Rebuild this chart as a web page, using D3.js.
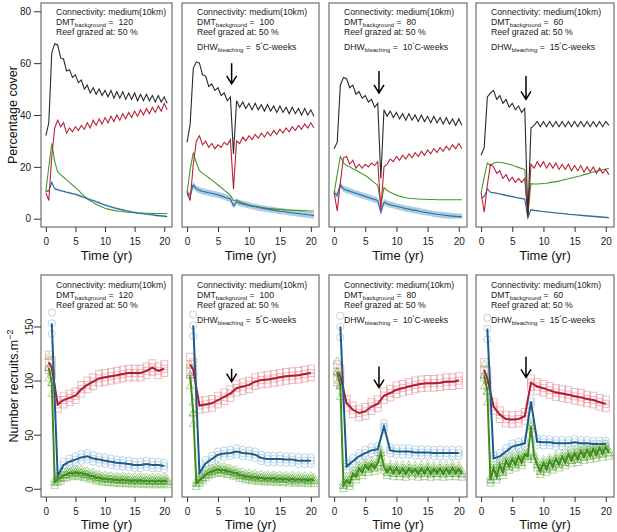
<!DOCTYPE html>
<html>
<head>
<meta charset="utf-8">
<script src="https://cdn.jsdelivr.net/npm/d3@7"></script>
<style>
  body { margin: 0; background: #fff; }
  svg { font-family: "Liberation Sans", Arial, sans-serif; }
  .note { white-space: pre; }
</style>
</head>
<body>
<svg id="chart" width="617" height="532"></svg>
<script>
// ---- data ----
const dmtValues = [120, 100, 80, 60];
const dhwValues = [null, 5, 10, 15];
const xTicks = [0, 5, 10, 15, 20];
const coverTicks = [0, 20, 40, 60, 80];
const recruitTicks = [0, 50, 100, 150];

// time (yr) for the cover panels, half-year steps
const tCover = [0, 0.5, 1, 1.5, 2, 2.5, 3, 3.5, 4, 4.5, 5, 5.5, 6, 6.5, 7, 7.5, 8, 8.5, 9, 9.5,
  10, 10.5, 11, 11.5, 12, 12.5, 13, 13.5, 14, 14.5, 15, 15.5, 16, 16.5, 17, 17.5, 18, 18.5, 19, 19.5, 20, 20.5];

// percentage cover, one array per panel
const coverBlack = [
  [32, 37, 64, 67.5, 67, 62, 61.5, 57, 57.5, 54.5, 55.5, 52.5, 53.5, 50, 51.5, 48.5, 50.5, 48, 50, 47.5,
   49.5, 47, 49.5, 46.5, 49, 46.5, 49, 46, 48.5, 46, 48.5, 45.5, 48, 45.5, 48, 45.5, 47.5, 45, 47.5, 45, 47, 44.5],
  [29.5, 36.5, 58, 60.5, 60, 55.5, 55, 51, 52, 49.5, 50.5, 47.5, 48.5, 45.5, 47, 25, 45.5, 43, 45, 42.5,
   44.5, 42, 44.5, 42, 44, 41.5, 44, 41.5, 43.5, 41, 43.5, 41, 43, 40.5, 43, 40.5, 42.5, 40, 42.5, 40, 42, 39.5],
  [27, 29.5, 51.5, 54.5, 54, 50.5, 51.5, 48, 49, 46.5, 47.5, 45, 46, 43, 44.5, 15.5, 42, 39.5, 41.5, 39,
   41, 38.5, 40.5, 38, 40.5, 38, 40, 37.5, 40, 37.5, 39.5, 37, 39.5, 37, 39, 36.5, 39, 36.5, 38.5, 36, 38.5, 36],
  [24.5, 27.5, 47, 48.5, 49.5, 46, 47.5, 44.5, 46, 43, 44.5, 42, 43.5, 41, 42.5, 1, 35, 36, 37.5, 35.5,
   37.5, 35.5, 37.5, 35.5, 37.5, 35.5, 37.5, 35.5, 37.5, 35.5, 37.5, 35.5, 37.5, 35.5, 37.5, 35.5, 37.5, 35.5, 37.5, 35.5, 37.5, 36]
];
const coverRed = [
  [10, 7, 24, 35, 38, 35.5, 37, 33, 35, 33.5, 35.5, 34, 36, 34.5, 37, 35, 38, 36, 38.5, 36.5,
   39, 37, 39.5, 37.5, 40, 38, 40.5, 38.5, 41, 39, 41.5, 39.5, 42, 40, 42.5, 40.5, 43, 41, 43.5, 41.5, 44.5, 42],
  [10, 7, 21, 30, 32, 28.5, 30, 27.5, 29, 27, 28.5, 27.5, 29.5, 28.5, 30.5, 11.5, 30, 29, 31.5, 30,
   32, 30.5, 32.5, 31, 33, 31.5, 33.5, 32, 34, 32.5, 34.5, 33, 35, 33.5, 35.5, 34, 36, 34.5, 36.5, 35, 37, 35],
  [10, 3, 14, 23.5, 24, 21, 22.5, 19.5, 21, 19.5, 21, 20, 21.5, 20.5, 22, 3.5, 20, 21, 23, 22,
   24, 22.5, 24.5, 23, 25, 23.5, 25.5, 24, 26, 24.5, 26.5, 25, 27, 25.5, 27.5, 26, 28, 26.5, 28.5, 27, 29, 27],
  [10, 2.5, 13, 21, 20, 17.5, 18.5, 15.5, 17, 14.5, 16, 14, 15.5, 14, 15.5, 0.5, 21, 19.5, 22, 20,
   22, 19.5, 21.5, 19.5, 21.5, 19, 21, 19, 21, 18.5, 20.5, 18.5, 20.5, 18, 20, 18, 20, 17.5, 19.5, 17.5, 19, 17]
];
const coverGreen = [
  [10.5, 20, 29, 22, 18, 17, 16, 15, 14, 13, 12, 11, 9.8, 8.7, 7.7, 6.9, 6.2, 5.6, 5, 4.5,
   4, 3.7, 3.4, 3.2, 3, 2.8, 2.7, 2.6, 2.5, 2.4, 2.3, 2.2, 2.2, 2.1, 2.1, 2.1, 2, 2, 2, 2, 2, 2],
  [10, 19, 25.5, 21.5, 18.5, 17.5, 16.7, 15.8, 14.9, 14, 13, 12, 11, 10, 9, 7, 7.2, 6.6, 6.1, 5.7,
   5.3, 5, 4.8, 4.6, 4.4, 4.2, 4, 3.9, 3.8, 3.7, 3.6, 3.5, 3.4, 3.3, 3.3, 3.2, 3.2, 3.1, 3.1, 3, 3, 3],
  [10, 17, 24, 21.5, 20.5, 20, 19.3, 18.7, 18, 17.3, 16.7, 15.8, 14.8, 13.8, 12.9, 5.5, 12, 11, 10.2, 9.6,
   9.1, 8.7, 8.4, 8.1, 7.9, 7.8, 7.7, 7.6, 7.5, 7.5, 7.4, 7.4, 7.4, 7.3, 7.3, 7.3, 7.3, 7.3, 7.3, 7.3, 7.3, 7.3],
  [10, 16, 21.5, 20.5, 21.5, 21.8, 21.8, 21.6, 21.3, 21, 20.6, 20.2, 19.8, 19.4, 19, 2, 13.5, 13.4, 13.4, 13.5,
   13.6, 13.7, 13.9, 14.1, 14.3, 14.5, 14.8, 15.1, 15.4, 15.7, 16, 16.3, 16.6, 17, 17.3, 17.6, 18, 18.3, 18.6, 18.9, 19.2, 19.4]
];
const coverBlue = [
  [10.5, 10.8, 14, 11.5, 11.2, 10.8, 10.6, 10.2, 10, 9.6, 9.4, 9, 8.6, 8.2, 7.8, 7.3, 7, 6.5, 6.2, 5.7,
   5.3, 4.9, 4.6, 4.2, 3.9, 3.6, 3.4, 3.1, 2.9, 2.6, 2.5, 2.2, 2.1, 1.9, 1.8, 1.6, 1.5, 1.3, 1.2, 1.1, 1, 0.8],
  [10, 9, 13, 11.5, 11, 10.5, 10.3, 10, 9.8, 9.5, 9.2, 8.8, 8.4, 8, 7.6, 5, 6.6, 6, 5.7, 5.4,
   5.1, 4.8, 4.6, 4.3, 4.1, 3.9, 3.7, 3.5, 3.3, 3.1, 2.9, 2.8, 2.6, 2.4, 2.3, 2.1, 2, 1.8, 1.7, 1.5, 1.4, 1.2],
  [10, 9, 13, 11.5, 11, 10.6, 10.2, 9.8, 9.4, 9, 8.6, 8.2, 7.8, 7.4, 7, 2.5, 6.4, 5.8, 5.4, 5.1,
   4.8, 4.5, 4.2, 3.9, 3.7, 3.4, 3.2, 3, 2.7, 2.5, 2.3, 2.1, 1.9, 1.7, 1.6, 1.4, 1.3, 1.1, 1, 0.9, 0.8, 0.7],
  [8, 8.5, 11.5, 10.2, 10, 9.8, 9.5, 9.3, 9, 8.8, 8.5, 8.3, 8, 7.8, 7.5, 0.3, 3.5, 3.2, 3.1, 2.9,
   2.8, 2.6, 2.5, 2.4, 2.2, 2.1, 2, 1.9, 1.7, 1.6, 1.5, 1.4, 1.3, 1.2, 1.1, 1, 0.9, 0.8, 0.7, 0.6, 0.5, 0.4]
];
// half width of the light blue band round the blue cover line
const blueBand = [0.4, 1.2, 1.2, 0.3];

// recruits: red and blue yearly, green half-yearly
const tYearly = [0.5, 1, 2, 3, 4, 5, 6, 7, 8, 9, 10, 11, 12, 13, 14, 15, 16, 17, 18, 19, 20];
const tHalf = [0.5, 1, 1.5, 2, 2.5, 3, 3.5, 4, 4.5, 5, 5.5, 6, 6.5, 7, 7.5, 8, 8.5, 9, 9.5, 10,
  10.5, 11, 11.5, 12, 12.5, 13, 13.5, 14, 14.5, 15, 15.5, 16, 16.5, 17, 17.5, 18, 18.5, 19, 19.5, 20, 20.5];

const recruitRed = [
  [117, 112, 78, 82, 84, 86, 92, 96, 99, 102, 103, 104, 105, 106, 107, 107, 107, 109, 112, 109, 111],
  [115, 110, 77, 78, 79, 82, 85, 88, 93, 94.5, 96, 99, 100.5, 101, 102, 103, 104, 104.5, 105, 106, 107],
  [108, 104, 79, 73, 70, 71.5, 76, 78.5, 86, 88.5, 91.5, 93, 94.5, 96, 97, 97.5, 97.5, 98, 99, 99, 100],
  [110, 102, 76, 68.5, 64.5, 64, 64.5, 67, 98, 94.5, 93, 91, 89, 88, 87, 85.5, 84.5, 83, 82, 80, 78.5]
];
const recruitBlue = [
  [null, 153, 12, 22, 25, 27, 29, 30, 28, 27, 26, 25, 24, 23.5, 23, 22, 22, 23, 22, 22, 21],
  [null, 151, 14.5, 23.5, 27.5, 31.5, 32.5, 33, 34.5, 33, 32.5, 31.5, 28.5, 27.5, 27.5, 27.5, 27, 27, 26, 26, 26],
  [null, 150, 20.5, 25.5, 30, 33, 35.5, 36.5, 57.5, 35.5, 34.5, 34.5, 34.5, 33.5, 33.5, 33.5, 33, 33, 33, 33, 33],
  [null, 148, 28, 30, 34.5, 39, 40.5, 42, 80.5, 43.5, 43, 43, 42, 42, 42, 43, 42, 42, 41.5, 41.5, 41.5]
];
const recruitGreen = [
  [112, 98, 6, 9, 10, 12.5, 13, 15, 14, 15.5, 14, 15, 13, 13.5, 11.5, 12, 10, 10.5, 9, 9.5,
   8.5, 9, 8, 8.5, 7.5, 8.5, 7.5, 8, 7, 8, 7, 8, 7, 7.5, 6.5, 7.5, 6.5, 7.5, 6.5, 7.5, 6.5],
  [105, 70, 5, 8, 10, 13, 15, 16, 17, 18, 17, 17.5, 16, 16, 14.5, 14.5, 12.5, 12.5, 11, 11.5,
   10, 11, 9.5, 10.5, 9, 10, 9, 10, 8.5, 9.5, 8.5, 9.5, 8, 9.5, 8, 9, 8, 9, 7.5, 9, 7.5],
  [108, 95, 3, 8, 5, 14, 11, 19, 15, 22, 18, 23, 19, 24, 33, 20, 15, 20, 14, 19.5,
   14, 19, 13.5, 19, 14.5, 18.5, 13.5, 19, 14, 19.5, 13.5, 18.5, 14, 19, 13.5, 19, 14, 19.5, 14, 18.5, 13.5],
  [105, 90, 8, 19, 11, 22, 15, 26, 20, 28, 22, 30, 24, 32, 30, 58, 30, 22, 16, 24,
   18, 26, 20, 28, 22, 30, 24, 32, 26, 33, 27, 35, 29, 36, 30, 37, 31, 38, 32, 39, 33]
];
// vertical spread of the replicate markers (red, blue, green), later / first two points
const markerSpread = [4, 3, 3];
const earlySpread = [7, 10, 10];

// bleaching arrows (time, tail, tip)
const arrowTime = 7.2;
const coverArrowTail = [null, 60, 57, 55];
const coverArrowTip = [null, 52, 48.5, 46];
const recruitArrowTail = [null, 111, 113, 122];
const recruitArrowTip = [null, 99, 93.5, 103];

// ---- layout ----
const svg = d3.select('#chart');
const cols = [
  { x0: 41, x1: 172 },
  { x0: 182, x1: 319 },
  { x0: 329, x1: 467 },
  { x0: 476, x1: 614 }
];
const rowTop = { y0: 3, y1: 227 };
const rowBottom = { y0: 275, y1: 497 };
const xDomain = [-0.82, 21.32];
const coverDomain = [-3.2, 83.2];
const recruitDomain = [-7.6, 197.6];

const colors = {
  black: '#2a2a2a', red: '#b8233a', green: '#4a962a', blue: '#2a6b9c', band: '#9dc6e0',
  redDark: '#b01d33', blueDark: '#1d5c8a', greenDark: '#3f8c1d',
  square: '#e89aa4', circle: '#98c1dc', triangle: '#8cc670'
};

function styleAxis(g) {
  g.select('.domain').remove();
  g.selectAll('.tick line').attr('stroke', '#333');
  g.selectAll('.tick text').attr('fill', '#222').style('font-size', '10px');
}

function drawFrame(c, row, x, y, i, isTop) {
  svg.append('rect')
    .attr('x', c.x0).attr('y', row.y0)
    .attr('width', c.x1 - c.x0).attr('height', row.y1 - row.y0)
    .attr('fill', 'none').attr('stroke', '#555').attr('stroke-width', 1);

  svg.append('g')
    .attr('transform', `translate(0,${row.y1})`)
    .call(d3.axisBottom(x).tickValues(xTicks).tickSize(5).tickPadding(6))
    .call(styleAxis);

  svg.append('text')
    .attr('x', (c.x0 + c.x1) / 2)
    .attr('y', row.y1 + (isTop ? 33 : 31.5))
    .attr('text-anchor', 'middle')
    .style('font-size', '13px')
    .attr('fill', '#111')
    .text('Time (yr)');

  if (i === 0) {
    const ax = svg.append('g')
      .attr('transform', `translate(${c.x0},0)`)
      .call(d3.axisLeft(y).tickValues(isTop ? coverTicks : recruitTicks).tickSize(7).tickPadding(3))
      .call(styleAxis);
    if (!isTop) {
      ax.selectAll('.tick text')
        .attr('x', null).attr('dy', null)
        .attr('text-anchor', 'middle')
        .attr('transform', 'translate(-8,0) rotate(-90)');
    }
  }

  // annotation block
  const tx = c.x0 + 15;
  const base = row.y0 + (isTop ? 12 : 13);
  const note = (yy) => svg.append('text').attr('class', 'note')
    .attr('x', tx).attr('y', yy).style('font-size', '8.7px').attr('fill', '#222');

  note(base).text('Connectivity: medium(10km)');
  const l2 = note(base + 10);
  l2.append('tspan').text('DMT');
  l2.append('tspan').attr('dy', 2).style('font-size', '6px').text('background');
  l2.append('tspan').attr('dy', -2).text(' =  ' + dmtValues[i]);
  note(base + 20).text('Reef grazed at: 50 %');
  if (dhwValues[i] !== null) {
    const l4 = note(base + 35);
    l4.append('tspan').text('DHW');
    l4.append('tspan').attr('dy', 2).style('font-size', '6px').text('bleaching');
    l4.append('tspan').attr('dy', -2).text(' =  ' + dhwValues[i]);
    l4.append('tspan').attr('dy', -3).style('font-size', '6px').text('˚');
    l4.append('tspan').attr('dy', 3).text('C-weeks');
  }
}

function drawArrow(x, y, tail, tip) {
  if (tail === null) return;
  const ax = x(arrowTime), y0 = y(tail), y1 = y(tip);
  svg.append('path')
    .attr('d', `M${ax},${y0}L${ax},${y1}M${ax - 5},${y1 - 8}L${ax},${y1}L${ax + 5},${y1 - 8}`)
    .attr('fill', 'none').attr('stroke', '#000').attr('stroke-width', 1.5);
}

function marker(kind, g, px, py) {
  if (kind === 'square') {
    g.append('rect').attr('x', px - 3.5).attr('y', py - 3.5).attr('width', 7).attr('height', 7);
  } else if (kind === 'circle') {
    g.append('circle').attr('cx', px).attr('cy', py).attr('r', 3.6);
  } else {
    g.append('path').attr('d', `M${px},${py - 4.2}L${px + 4},${py + 2.8}L${px - 4},${py + 2.8}Z`);
  }
}

cols.forEach((c, i) => {
  const x = d3.scaleLinear().domain(xDomain).range([c.x0, c.x1]);

  // ---- top row: percentage cover ----
  const yC = d3.scaleLinear().domain(coverDomain).range([rowTop.y1, rowTop.y0]);
  const pts = arr => tCover.map((t, k) => ({ t, v: arr[k] }));
  const lineC = d3.line().x(d => x(d.t)).y(d => yC(d.v));

  const band = d3.area()
    .x(d => x(d.t))
    .y0(d => yC(Math.max(0, d.v - blueBand[i])))
    .y1(d => yC(d.v + blueBand[i]));
  svg.append('path').datum(pts(coverBlue[i])).attr('d', band)
    .attr('fill', colors.band).attr('opacity', 0.85);

  [[coverGreen, colors.green], [coverBlue, colors.blue], [coverRed, colors.red], [coverBlack, colors.black]]
    .forEach(([arr, col]) => {
      svg.append('path').datum(pts(arr[i])).attr('d', lineC)
        .attr('fill', 'none').attr('stroke', col).attr('stroke-width', 1.1);
    });

  drawFrame(c, rowTop, x, yC, i, true);
  drawArrow(x, yC, coverArrowTail[i], coverArrowTip[i]);

  // ---- bottom row: recruits ----
  const yR = d3.scaleLinear().domain(recruitDomain).range([rowBottom.y1, rowBottom.y0]);
  const lineR = d3.line().defined(d => d.v !== null).x(d => x(d.t)).y(d => yR(d.v));
  const series = [
    { times: tYearly, vals: recruitRed[i], kind: 'square', light: colors.square, dark: colors.redDark },
    { times: tYearly, vals: recruitBlue[i], kind: 'circle', light: colors.circle, dark: colors.blueDark },
    { times: tHalf, vals: recruitGreen[i], kind: 'triangle', light: colors.triangle, dark: colors.greenDark }
  ];

  series.forEach((s, si) => {
    const g = svg.append('g').attr('fill', 'none').attr('stroke', s.light)
      .attr('stroke-width', 0.9).attr('stroke-opacity', 0.75);
    s.times.forEach((t, k) => {
      const v = s.vals[k];
      if (v === null) return;
      const sp = k < 2 ? earlySpread[si] : markerSpread[si];
      [-sp, 0, sp].forEach(off => marker(s.kind, g, x(t), yR(Math.max(0, v + off))));
    });
  });

  series.forEach(s => {
    if (s.kind === 'triangle') {
      const g = svg.append('g').attr('fill', 'none').attr('stroke', s.dark)
        .attr('stroke-width', 0.8).attr('stroke-opacity', 0.5);
      s.times.forEach((t, k) => marker(s.kind, g, x(t), yR(s.vals[k])));
    }
    svg.append('path').datum(s.times.map((t, k) => ({ t, v: s.vals[k] })))
      .attr('d', lineR).attr('fill', 'none').attr('stroke', s.dark).attr('stroke-width', 2);
  });

  drawFrame(c, rowBottom, x, yR, i, false);
  drawArrow(x, yR, recruitArrowTail[i], recruitArrowTip[i]);
});

// y axis titles
svg.append('text')
  .attr('transform', 'translate(17,115) rotate(-90)')
  .attr('text-anchor', 'middle')
  .style('font-size', '12.5px').attr('fill', '#111')
  .text('Percentage cover');

const yt = svg.append('text')
  .attr('transform', 'translate(18,386) rotate(-90)')
  .attr('text-anchor', 'middle')
  .style('font-size', '12.5px').attr('fill', '#111');
yt.append('tspan').text('Number recruits.m');
yt.append('tspan').attr('dy', -5).style('font-size', '9px').text('−2');
</script>
</body>
</html>
